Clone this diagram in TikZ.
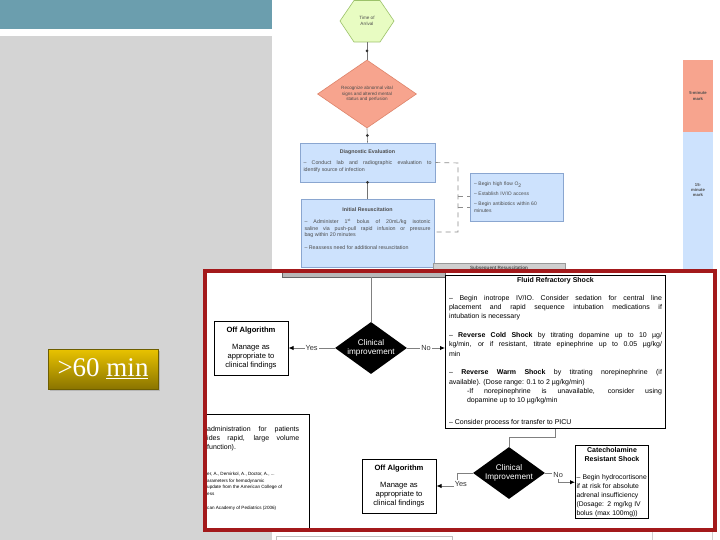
\documentclass[tikz,border=0pt]{standalone}
\usepackage{fontspec}
\setmainfont{Liberation Sans}
\newfontfamily\slidefont{Liberation Serif}
\usetikzlibrary{shapes.geometric, arrows.meta, positioning, calc, shadows}
\definecolor{barteal}{HTML}{6B9EAE}
\definecolor{panelgrey}{HTML}{D4D4D4}
\definecolor{framered}{HTML}{A3191B}
\definecolor{goldtop}{HTML}{E9C300}
\definecolor{goldbot}{HTML}{8A7400}
\definecolor{golddark}{HTML}{6E5E00}
\definecolor{hexgreen}{HTML}{E8FCC2}
\definecolor{hexedge}{HTML}{9CC26A}
\definecolor{salmon}{HTML}{F7A48E}
\definecolor{salmonedge}{HTML}{DE846A}
\definecolor{paleblue}{HTML}{CDE2FD}
\definecolor{paleedge}{HTML}{8AA6D0}
\definecolor{lightgrey}{HTML}{CFCFCF}

\begin{document}
\begin{tikzpicture}[x=1pt, y=-1pt,
    chart/.style={font=\fontsize{4.6}{5.8}\selectfont, text=black!70},
    chartline/.style={draw=black!55, line width=0.6pt},
    bluebox/.style={draw=paleedge, fill=paleblue, line width=0.6pt, chart},
    dot/.style={circle, fill=black!80, inner sep=0pt, minimum size=3pt},
    bracket/.style={draw=black!45, dash pattern=on 5pt off 4pt, line width=0.6pt},
    flowline/.style={draw=black!50, line width=0.9pt},
    arr/.style={flowline, -{Latex[color=black, length=5pt, width=4.5pt]}},
    plainbox/.style={draw=black, line width=1pt, fill=white},
    decision/.style={diamond, shape aspect=1.4, fill=black, text=white, minimum width=72pt,
      minimum height=52pt, inner sep=-2pt, align=center, font=\fontsize{8.2}{9}\selectfont},
    offbox/.style={plainbox, minimum width=74pt, minimum height=54pt, align=center, inner sep=1pt,
      font=\fontsize{7.6}{9.2}\selectfont},
    lbl/.style={fill=white, inner sep=1pt, font=\fontsize{7.4}{8}\selectfont, text=black!80},
    goldbox/.style={draw=golddark, line width=0.6pt, top color=goldtop, bottom color=goldbot,
      minimum width=110pt, minimum height=40pt, inner sep=0pt, text=white,
      font=\slidefont\fontsize{27}{30}\selectfont,
      drop shadow={shadow xshift=1.5pt, shadow yshift=-1.5pt, opacity=0.35}}]
\fill[white, use as bounding box] (0,0) rectangle (720,540);

% slide panel
\fill[barteal] (0,0) rectangle (272,29);
\fill[panelgrey] (0,36) rectangle (272,540);

% chart behind the overlay
\filldraw[fill=hexgreen, draw=hexedge, line width=0.6pt]
  (354,0.5) -- (380,0.5) -- (394,21) -- (380,42) -- (354,42) -- (340,21) -- cycle;
\node[chart, align=center, minimum width=53pt, minimum height=42pt] (arrival) at (367,21) {Time of\\Arrival};
\node[diamond, shape aspect=1.45, draw=salmonedge, fill=salmon, line width=0.6pt, minimum width=99pt,
  minimum height=68pt, inner sep=0pt, chart, align=center] (recog) at (367,94)
  {Recognize abnormal vital\\signs and altered mental\\status and perfusion};
\node[bluebox, minimum width=135pt, minimum height=39pt, text width=128pt, align=justify,
  font=\fontsize{5.3}{6.4}\selectfont] (diag) at (367.5,162.5)
  {{\centering\textbf{Diagnostic Evaluation}\par}\vspace{5pt}
   – Conduct lab and radiographic evaluation to\linebreak identify source of infection\par\vspace{3pt}};
\node[bluebox, minimum width=133pt, minimum height=68pt, text width=126pt, align=justify,
  font=\fontsize{5.3}{6.6}\selectfont] (initial) at (367.5,233)
  {{\centering\textbf{Initial Resuscitation}\par}\vspace{6pt}
   – Administer 1\textsuperscript{st} bolus of 20mL/kg isotonic\linebreak saline via push-pull rapid infusion or pressure\linebreak
   bag within 20 minutes\par\vspace{6pt}
   – Reassess need for additional resuscitation\par\vspace{9pt}};
\node[bluebox, minimum width=92pt, minimum height=48pt, text width=86pt, align=left,
  font=\fontsize{5}{6.2}\selectfont] (tasks) at (517,197)
  {– Begin high flow O\textsubscript{2}\\[4pt]– Establish IV/IO access\\[4pt]– Begin antibiotics within 60\\minutes};
\node[draw=black!40, fill=lightgrey, minimum width=132pt, minimum height=10pt, inner sep=0pt, chart] (later) at (499,268)
  {\textbf{Subsequent Resuscitation}};

\draw[chartline] (arrival.south) -- node[dot]{} (recog.north);
\draw[chartline] (recog.south) -- node[dot]{} (diag.north);
\draw[chartline] (diag.south) -- node[dot, pos=0]{} (initial.north);

\coordinate (brtop) at (458,163);
\coordinate (brbot) at (458,232);
\coordinate (bra) at (458,196);
\coordinate (brb) at (458,207);
\draw[bracket] (diag.east) -- (brtop) -- (brbot) -- (initial.east |- brbot);
\draw[bracket] (bra) -- (bra -| tasks.west);
\draw[bracket] (brb) -- (brb -| tasks.west);

% time marks
\fill[salmon] (683,60) rectangle (713,132);
\fill[paleblue] (683,132) rectangle (713,272);
\node[chart, align=center, font=\fontsize{4.2}{5.2}\selectfont\bfseries] (firstmark) at (698,96) {5-minute\\mark};
\node[chart, align=center, font=\fontsize{4.2}{5.2}\selectfont\bfseries] (latermark) at (698,190) {15-\\minute\\mark};

\draw[black!25] (276,536) rectangle (452,560);
\draw[black!18] (652,531) rectangle (712,560);

\node[goldbox] (sixty) at (103,369) {>60 \underline{min}};

% overlay
\fill[white] (203,269) rectangle (716.5,531.5);
\begin{scope}
  \clip (207,272.5) rectangle (712.7,528);
  \node[draw=black!60, fill=black!28, minimum width=163pt, minimum height=40pt, inner sep=0pt] (subseq) at (363.5,257) {};
  \node[plainbox, minimum width=200pt, minimum height=140pt, anchor=north east] (notes) at (310,414) {};
  \node[anchor=north west, text width=92pt, align=justify, inner sep=0pt, font=\fontsize{7}{9.3}\selectfont] (notetext) at (207,426)
    {administration for patients\linebreak ides rapid, large volume\linebreak function).};
  \node[anchor=north west, align=left, inner sep=0pt, font=\fontsize{4.6}{6.5}\selectfont] (refs) at (207,472)
    {er, A., Demirkol, A., Doctor, A., ...\\arameters for hemodynamic\\update from the American College of\\ess\\[8pt]can Academy of Pediatrics (2006)};
\end{scope}

\node[decision] (clin1) at (371,348) {Clinical\\improvement};
\node[offbox] (offa) at (251,348) {\textbf{Off Algorithm}\\[8pt]Manage as\\appropriate to\\clinical findings};
\node[plainbox, anchor=north west, text width=213pt, align=justify, inner xsep=3.5pt, inner ysep=2pt,
  font=\fontsize{7}{9.3}\selectfont] (fluid) at (445,275)
  {\hyphenpenalty 10000
   {\centering\textbf{Fluid Refractory Shock}\par}\vspace{8.5pt}
   – Begin inotrope IV/IO. Consider sedation for central line\linebreak placement and rapid sequence intubation medications if\linebreak
   intubation is necessary\par\vspace{9.3pt}
   – \textbf{Reverse Cold Shock} by titrating dopamine up to 10 µg/\linebreak kg/min, or if resistant, titrate epinephrine up to 0.05 µg/kg/\linebreak
   min\par\vspace{9.3pt}
   – \textbf{Reverse Warm Shock} by titrating norepinephrine (if\linebreak available). (Dose range: 0.1 to 2 µg/kg/min)\par
   {\leftskip 18pt -If norepinephrine is unavailable, consider using\linebreak dopamine up to 10 µg/kg/min\par}\vspace{13pt}
   – Consider process for transfer to PICU};
\node[decision] (clin2) at (509,473) {Clinical\\Improvement};
\node[offbox] (offb) at (399,486) {\textbf{Off Algorithm}\\[8pt]Manage as\\appropriate to\\clinical findings};
\node[plainbox, anchor=north west, text width=71pt, inner xsep=1pt, inner ysep=2pt, align=left,
  font=\fontsize{6.8}{9}\selectfont] (cat) at (575,445)
  {{\centering\fontsize{7}{9}\selectfont\textbf{Catecholamine\\Resistant Shock}\par}\vspace{9pt}
   – Begin hydrocortisone\\if at risk for absolute\\adrenal insufficiency\\(Dosage: 2 mg/kg IV\\bolus (max 100mg))};

\draw[flowline] (subseq.south -| clin1.north) -- (clin1.north);
\draw[arr] (clin1.west) -- node[lbl]{Yes} (offa.east);
\draw[arr] (clin1.east) -- node[lbl]{No} (fluid.west |- clin1.east);
\draw[flowline] (fluid.south) -- ++(0,9) -| (clin2.north);
\draw[arr] (clin2.west) -- ++(-15,0) |- node[lbl, pos=0.5, xshift=3pt, yshift=2pt]{Yes} (offb.east);
\draw[arr] (clin2.east) -- ++(13,0) |- node[lbl, pos=0.5, yshift=7pt]{No} (cat.west);

\draw[framered, line width=3.6pt] (205,270.7) rectangle (714.7,530);
\end{tikzpicture}
\end{document}
